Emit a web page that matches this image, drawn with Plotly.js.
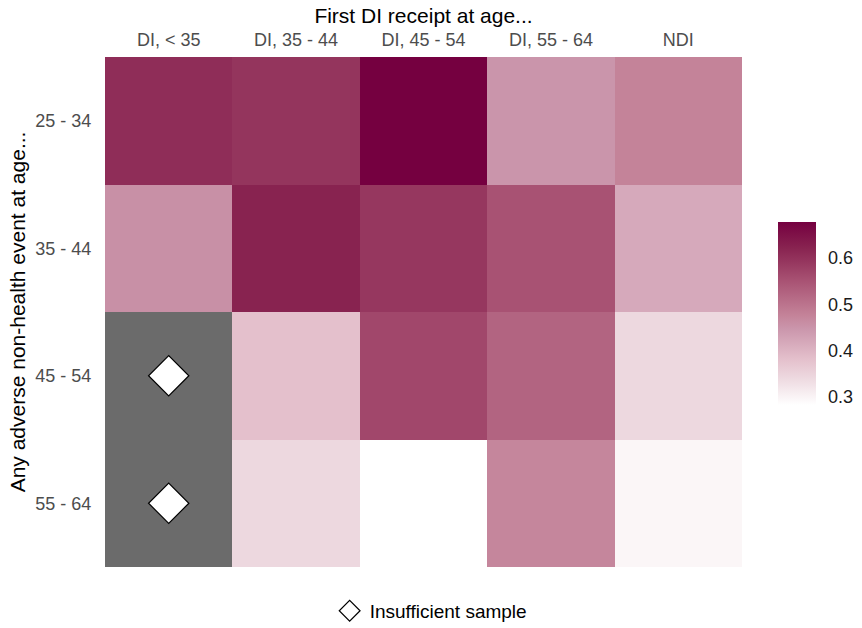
<!DOCTYPE html>
<html>
<head>
<meta charset="utf-8">
<script src="https://cdn.plot.ly/plotly-3.0.1.min.js"></script>
<style>html,body{margin:0;padding:0;background:#fff;}#chart{width:862px;height:628px;}</style>
</head>
<body>
<div id="chart"></div>
<script>
// Categories
const diCategories = ["DI, < 35", "DI, 35 - 44", "DI, 45 - 54", "DI, 55 - 64", "NDI"];
const eventAges = ["25 - 34", "35 - 44", "45 - 54", "55 - 64"];

// Values per row (event age), columns follow diCategories; null = insufficient sample
const row2534 = [0.606, 0.594, 0.677, 0.448, 0.476];
const row3544 = [0.456, 0.622, 0.590, 0.551, 0.417];
const row4554 = [null, 0.382, 0.567, 0.523, 0.342];
const row5564 = [null, 0.342, 0.283, 0.472, 0.297];

const zValues = [row2534, row3544, row4554, row5564];

// Colorbar tick values
const cbTicks = [0.3, 0.4, 0.5, 0.6];

// Build insufficient-sample layers from the data
const naZ = zValues.map(r => r.map(v => v === null ? 1 : null));
const naX = [], naY = [];
zValues.forEach((r, i) => r.forEach((v, j) => { if (v === null) { naX.push(diCategories[j]); naY.push(eventAges[i]); } }));

const fontFam = '"Liberation Sans", Arial, Helvetica, sans-serif';

const traces = [
  {
    type: 'heatmap',
    x: diCategories, y: eventAges, z: zValues,
    colorscale: [
      [0, '#FFFFFF'], [0.15, '#EDD8DF'], [0.25, '#E4C0CC'], [0.42, '#CA95AB'],
      [0.49, '#C48399'], [0.68, '#A85273'], [0.78, '#96375F'], [0.86, '#882350'], [1, '#750040']
    ],
    hoverongaps: false,
    showscale: true,
    colorbar: {
      x: 1.0565, xanchor: 'left', xpad: 0, ypad: 0,
      y: 0.497, yanchor: 'middle',
      len: 183, lenmode: 'pixels',
      thickness: 38, thicknessmode: 'pixels',
      outlinewidth: 0,
      tickvals: cbTicks,
      ticktext: cbTicks.map(v => v.toFixed(1)),
      ticks: 'outside', ticklen: 9, tickcolor: 'rgba(0,0,0,0)', tickwidth: 1,
      tickfont: {family: fontFam, size: 18, color: '#1A1A1A'}
    },
    showlegend: false
  },
  {
    type: 'heatmap',
    x: diCategories, y: eventAges, z: naZ,
    colorscale: [[0, '#6B6B6B'], [1, '#6B6B6B']],
    showscale: false, hoverongaps: false, showlegend: false
  },
  {
    type: 'scatter', mode: 'markers',
    x: naX, y: naY,
    name: 'Insufficient sample',
    marker: {symbol: 'diamond', size: 31, color: '#FFFFFF', line: {color: '#000000', width: 1.2}},
    showlegend: true
  }
];

const layout = {
  width: 862, height: 628,
  margin: {l: 105, r: 120, t: 57, b: 61, autoexpand: false},
  paper_bgcolor: '#FFFFFF', plot_bgcolor: '#FFFFFF',
  font: {family: fontFam},
  xaxis: {
    side: 'top', type: 'category',
    showgrid: false, zeroline: false, showline: false,
    ticks: 'outside', ticklen: 3, tickcolor: 'rgba(0,0,0,0)',
    tickfont: {family: fontFam, size: 18, color: '#4D4D4D'},
    title: {text: 'First DI receipt at age...', font: {family: fontFam, size: 21, color: '#000000'}, standoff: 0},
    fixedrange: true
  },
  yaxis: {
    type: 'category', autorange: 'reversed',
    showgrid: false, zeroline: false, showline: false,
    ticks: 'outside', ticklen: 9, tickcolor: 'rgba(0,0,0,0)',
    tickfont: {family: fontFam, size: 18, color: '#4D4D4D'},
    title: {text: 'Any adverse non-health event at age...', font: {family: fontFam, size: 21, color: '#000000'}, standoff: 4},
    fixedrange: true
  },
  showlegend: true,
  legend: {
    orientation: 'h', x: 0.512, xanchor: 'center', y: -0.086, yanchor: 'middle',
    font: {family: fontFam, size: 19, color: '#000000'},
    bgcolor: 'rgba(0,0,0,0)'
  }
};

Plotly.newPlot('chart', traces, layout, {displayModeBar: false, staticPlot: true});
</script>
</body>
</html>
